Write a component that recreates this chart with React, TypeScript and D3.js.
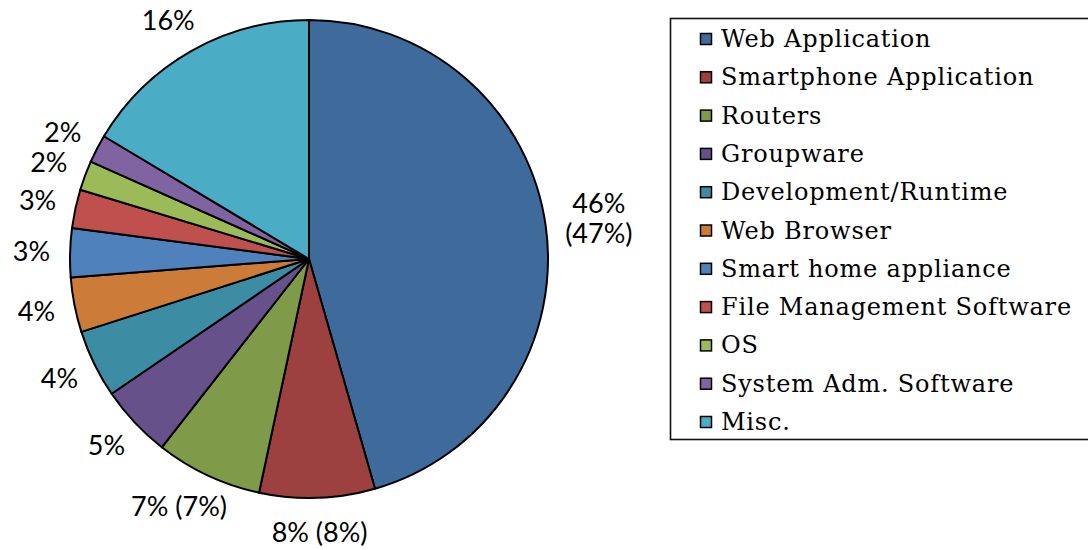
import React, { useEffect, useRef } from 'react';
import * as d3 from 'd3';

// slice shares (percent of the full circle)
const categories = [
  'Web Application',
  'Smartphone Application',
  'Routers',
  'Groupware',
  'Development/Runtime',
  'Web Browser',
  'Smart home appliance',
  'File Management Software',
  'OS',
  'System Adm. Software',
  'Misc.',
];
const shares = [45.5, 7.8, 7.2, 4.9, 4.6, 3.7, 3.3, 2.6, 2.0, 1.9, 16.4];
const sliceLabels = [
  ['46%', '(47%)'],
  ['8% (8%)'],
  ['7% (7%)'],
  ['5%'],
  ['4%'],
  ['4%'],
  ['3%'],
  ['3%'],
  ['2%'],
  ['2%'],
  ['16%'],
];
const colors = [
  '#3f6a9c', '#9c413f', '#7f9b4a', '#67518a', '#3c8da3', '#cc7b38',
  '#4f81bd', '#c0504d', '#9bbb59', '#8064a2', '#4bacc6',
];

type Row = { name: string; value: number; label: string[]; color: string };

export default function App() {
  const svgRef = useRef<SVGSVGElement>(null);

  useEffect(() => {
    const svg = d3.select(svgRef.current);
    svg.selectAll('*').remove();

    const width = 1088;
    const height = 550;
    const cx = 309;
    const cy = 259;
    const radius = 239;

    svg.attr('width', width).attr('height', height).attr('viewBox', `0 0 ${width} ${height}`);

    const rows: Row[] = categories.map((name, i) => ({
      name,
      value: shares[i],
      label: sliceLabels[i],
      color: colors[i],
    }));

    const pie = d3.pie<Row>().sort(null).value(d => d.value);
    const arcs = pie(rows);
    const arc = d3.arc<d3.PieArcDatum<Row>>().innerRadius(0).outerRadius(radius);

    const g = svg.append('g').attr('transform', `translate(${cx},${cy})`);

    g.selectAll('path.slice')
      .data(arcs)
      .join('path')
      .attr('class', 'slice')
      .attr('d', arc)
      .attr('fill', d => d.data.color)
      .attr('stroke', '#000')
      .attr('stroke-width', 2)
      .attr('stroke-linejoin', 'round');

    // Data labels, pushed outside the rim along the mid angle
    const labelPad = 20;
    const lineH = 30;
    arcs.forEach(a => {
      const mid = (a.startAngle + a.endAngle) / 2;
      const sx = Math.sin(mid);
      const sy = -Math.cos(mid);
      const px = (radius + labelPad) * sx;
      const py = (radius + labelPad) * sy;

      const t = g.append('text')
        .attr('font-family', 'Lato, "Open Sans", sans-serif')
        .attr('font-size', 27)
        .attr('fill', '#000')
        .attr('text-anchor', 'middle');
      a.data.label.forEach((line, i) => {
        t.append('tspan').attr('x', 0).attr('dy', i === 0 ? 0 : lineH).text(line);
      });
      const bb = (t.node() as SVGTextElement).getBBox();
      const w = bb.width;
      const h = a.data.label.length * lineH;
      const bx = px + sx * w / 2;
      const by = py + sy * h / 2;
      // first baseline so that the block is centred on (bx, by)
      const firstBase = by - h / 2 + lineH * 0.5 + 9;
      t.attr('transform', `translate(${bx},${firstBase})`);
    });

    // Legend (its right border runs off the canvas)
    const legX = 670;
    const legY = 18;
    const legW = 424;
    const legH = 421;
    svg.append('rect')
      .attr('x', legX + 0.5)
      .attr('y', legY + 0.5)
      .attr('width', legW)
      .attr('height', legH)
      .attr('fill', '#fff')
      .attr('stroke', '#111')
      .attr('stroke-width', 1.6);

    const rowY = d3.scalePoint<string>()
      .domain(categories)
      .range([47, 430]);

    const leg = svg.append('g');
    const item = leg.selectAll('g.item')
      .data(rows)
      .join('g')
      .attr('class', 'item')
      .attr('transform', d => `translate(0,${rowY(d.name)})`);

    item.append('rect')
      .attr('x', 700.5)
      .attr('y', -13.5)
      .attr('width', 11)
      .attr('height', 11)
      .attr('fill', d => d.color)
      .attr('stroke', '#000')
      .attr('stroke-width', 1.5);

    item.append('text')
      .attr('x', 721)
      .attr('y', 0)
      .attr('font-family', '"DejaVu Serif", serif')
      .attr('font-size', 24)
      .attr('letter-spacing', 0.8)
      .attr('fill', '#000')
      .text(d => d.name);
  }, []);

  return (
    <svg
      ref={svgRef}
      style={{ position: 'absolute', left: 0, top: 0, background: '#fff', display: 'block' }}
    />
  );
}
